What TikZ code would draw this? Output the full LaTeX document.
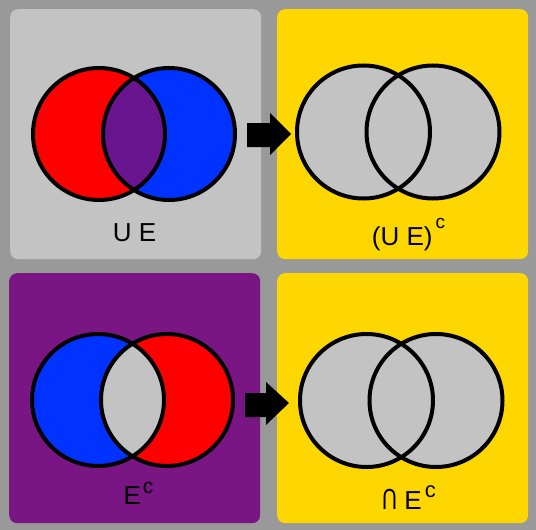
\documentclass[tikz,border=0pt]{standalone}
\usepackage{fontspec}
\usepackage{graphicx}
\setmainfont{Liberation Sans}
\definecolor{bggray}{HTML}{999999}
\definecolor{lgray}{HTML}{C3C3C3}
\definecolor{gold}{HTML}{FFD700}
\definecolor{panelpurple}{HTML}{7A1584}
\definecolor{lenspurple}{HTML}{6A1590}
\definecolor{vblue}{HTML}{0033FF}
\definecolor{vred}{HTML}{FF0000}
\newcommand{\capsym}{\scalebox{0.8}[1.12]{\rotatebox[origin=c]{180}{U}}}
\begin{document}
\begin{tikzpicture}[x=1pt,y=-1pt,
  panel/.style={rounded corners=8pt,inner sep=0pt,minimum width=251pt,minimum height=250pt},
  ring/.style={draw=black,line width=4pt},
  lbl/.style={inner sep=0pt,anchor=base,font=\fontsize{26}{26}\selectfont},
  blockarrow/.style={fill=black,draw=none}]
\fill[bggray] (0,0) rectangle (536,530);
\useasboundingbox (0,0) rectangle (536,530);
% panels
\node[panel,fill=lgray,anchor=north west] (p1) at (10,9) {};
\node[panel,fill=gold,anchor=north west] (p2) at (277,9) {};
\node[panel,fill=panelpurple,anchor=north west] (p3) at (9,273) {};
\node[panel,fill=gold,anchor=north west] (p4) at (277,273) {};
% panel 1
\coordinate (a1) at (99,134);
\coordinate (b1) at (169,134);
\fill[vred] (a1) circle (66);
\fill[vblue] (b1) circle (66);
\begin{scope}
  \clip (a1) circle (66);
  \fill[lenspurple] (b1) circle (66);
\end{scope}
\draw[ring] (a1) circle (66);
\draw[ring] (b1) circle (66);
\node[lbl] (t1) at (134.5,241) {U E};
% panel 2
\coordinate (a2) at (363.5,132);
\coordinate (b2) at (433,132);
\fill[lgray] (a2) circle (66.5);
\fill[lgray] (b2) circle (66.5);
\draw[ring] (a2) circle (66.5);
\draw[ring] (b2) circle (66.5);
\node[lbl] (t2) at (408.5,245) {(U E)\hspace{3pt}\raisebox{17pt}{\fontsize{19}{19}\selectfont c}};
% panel 3
\coordinate (a3) at (98,400);
\coordinate (b3) at (167,400);
\fill[vblue] (a3) circle (66);
\fill[vred] (b3) circle (66);
\begin{scope}
  \clip (a3) circle (66);
  \fill[lgray] (b3) circle (66);
\end{scope}
\draw[ring] (a3) circle (66);
\draw[ring] (b3) circle (66);
\node[lbl] (t3) at (138.5,504) {E\hspace{2pt}\raisebox{11pt}{\fontsize{21}{21}\selectfont c}};
% panel 4
\coordinate (a4) at (366.5,400.5);
\coordinate (b4) at (436,400.5);
\fill[lgray] (a4) circle (66.5);
\fill[lgray] (b4) circle (66.5);
\draw[ring] (a4) circle (66.5);
\draw[ring] (b4) circle (66.5);
\node[lbl] (t4) at (409,509) {\capsym\ E\hspace{3pt}\raisebox{12pt}{\fontsize{22}{22}\selectfont c}};
% arrows
\fill[blockarrow] (247,123) -- (270,123) -- (270,113) -- (291,134) -- (270,155) -- (270,147) -- (247,147) -- cycle;
\fill[blockarrow] (245,393) -- (266,393) -- (266,382) -- (289,403) -- (266,425) -- (266,417) -- (245,417) -- cycle;
\end{tikzpicture}
\end{document}
